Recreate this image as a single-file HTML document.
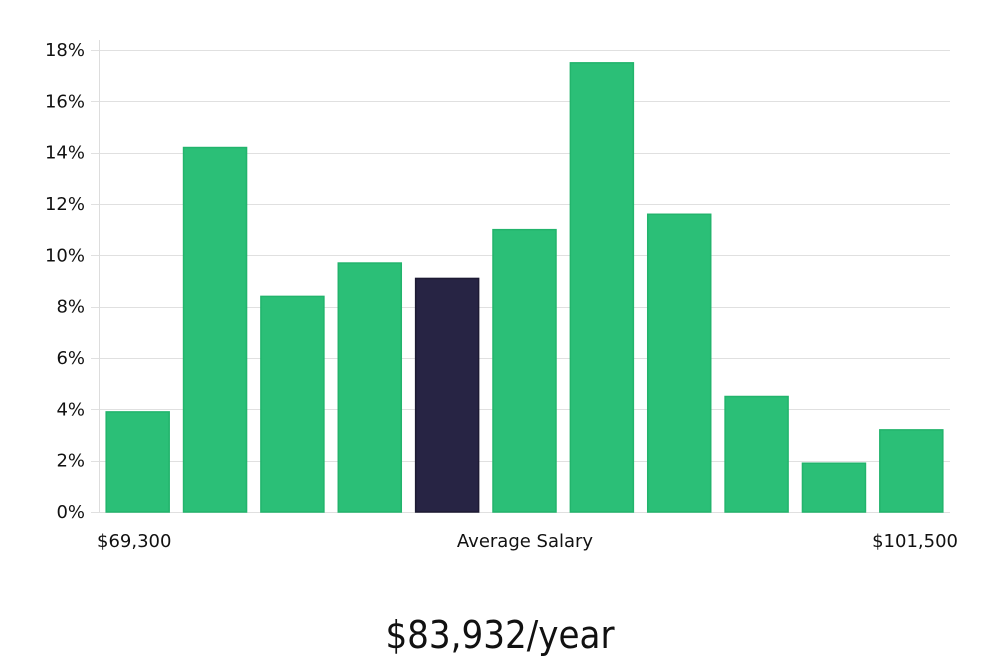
<!DOCTYPE html>
<html><head><meta charset="utf-8"><style>
body{margin:0;background:#fff;width:1000px;height:660px;overflow:hidden;font-family:"Liberation Sans","DejaVu Sans",sans-serif;}
svg text{font-family:"DejaVu Sans","Liberation Sans",sans-serif;}
</style></head><body>
<svg id="chart" width="1000" height="660" xmlns="http://www.w3.org/2000/svg">
<g id="grid"></g>
<g id="yticks"></g>
<g id="bars"></g>
<line x1="99.5" y1="40" x2="99.5" y2="512" stroke="#ddd"/>
<text x="97" y="547" font-size="18" fill="#111">$69,300</text>
<text x="525" y="547" font-size="18" fill="#111" text-anchor="middle">Average Salary</text>
<text x="958" y="547" font-size="18" fill="#111" text-anchor="end">$101,500</text>
<text x="500" y="648" font-size="38" font-weight="300" fill="#111" text-anchor="middle" style="font-family:'DejaVu Sans Condensed','DejaVu Sans',sans-serif;font-weight:200">$83,932/year</text>
</svg>
<script>
const values=[3.9,14.2,8.4,9.7,9.1,11.0,17.5,11.6,4.5,1.9,3.2];
const highlightIndex=[4];
const tickValues=[0,2,4,6,8,10,12,14,16,18];
const tickLabels=["0%","2%","4%","6%","8%","10%","12%","14%","16%","18%"];
const NS="http://www.w3.org/2000/svg";
const x0=99,x1=950,y0=512,y1=50,ymax=18;
function y(v){return y0-(v/ymax)*(y0-y1);}
const band=(x1-x0)/values.length;
function x(i){return x0+i*band;}
const grid=document.getElementById('grid'),yt=document.getElementById('yticks'),bars=document.getElementById('bars');
tickValues.forEach((t,i)=>{
 const l=document.createElementNS(NS,'line');
 
 
 l.setAttribute('x1',x0-8);l.setAttribute('x2',x1);
 l.setAttribute('y1',Math.round(y(t))+0.5);l.setAttribute('y2',Math.round(y(t))+0.5);
 l.setAttribute('stroke','#e0e0e0');grid.appendChild(l);
 const tx=document.createElementNS(NS,'text');
 
 
 tx.setAttribute('x',85);tx.setAttribute('y',y(t)+6);
 tx.setAttribute('text-anchor','end');tx.setAttribute('font-size','18');tx.setAttribute('fill','#111');
 tx.textContent=tickLabels[i];yt.appendChild(tx);
});
values.forEach((v,i)=>{
 const r=document.createElementNS(NS,'rect');
 
 
 const w=63;
 r.setAttribute('x',x(i)+(band-w)/2);r.setAttribute('width',w);
 r.setAttribute('y',y(v));r.setAttribute('height',y0-y(v));
 const hi=highlightIndex.includes(i);
 r.setAttribute('fill',hi?'#272444':'#2bbf77');
 r.setAttribute('stroke',hi?'#1d1a33':'#22b46c');r.setAttribute('stroke-width','1.5');
 bars.appendChild(r);
});
</script>
</body></html>
